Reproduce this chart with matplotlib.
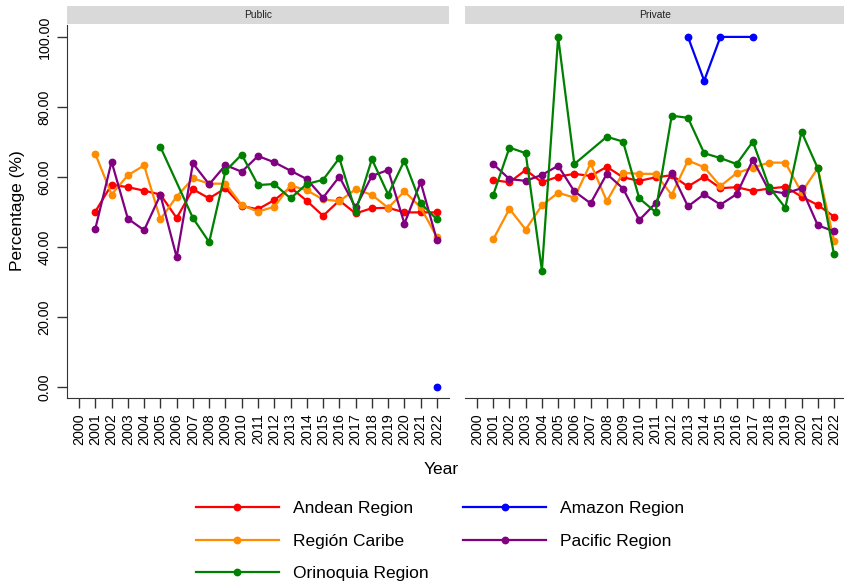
import numpy as np
import matplotlib
matplotlib.use("Agg")
import matplotlib.pyplot as plt
from matplotlib.lines import Line2D

plt.rcParams['font.family'] = ['Liberation Sans', 'DejaVu Sans']

years = list(range(2001, 2023))

# Public
andean_pub = [50.1, 57.8, 57.1, 56.1, 55.0, 48.3, 56.5, 53.9, 56.8, 51.7, 50.8,
              53.4, 57.0, 53.2, 48.9, 53.3, 49.6, 51.1, 51.2, 49.9, 49.9, 49.9]
amazon_pub = [None] * 21 + [0.0]
caribe_pub = [66.6, 55.0, 60.5, 63.3, 47.9, 54.4, 59.6, 58.1, 58.1, 52.0, 50.1,
              51.5, 57.6, 56.2, 53.6, 53.1, 56.5, 54.9, 51.2, 55.9, 51.3, 42.8]
pacific_pub = [45.2, 64.4, 48.1, 44.8, 54.9, 37.1, 63.9, 57.9, 63.4, 61.5, 66.0,
               64.2, 61.8, 59.4, 54.1, 60.1, 51.3, 60.3, 62.0, 46.7, 58.5, 41.9]
orinoquia_pub = [None, None, None, None, 68.6, None, 48.3, 41.4, 61.7, 66.4, 57.7,
                 58.0, 53.9, 58.0, 59.2, 65.4, 50.1, 65.1, 55.0, 64.7, 52.5, 47.9]

# Private
andean_priv = [59.1, 58.5, 62.0, 58.5, 60.1, 60.9, 60.3, 62.9, 59.9, 58.9, 59.9,
               60.5, 57.3, 60.1, 56.8, 57.1, 56.0, 56.7, 57.2, 54.4, 52.0, 48.7]
amazon_priv = [None] * 12 + [100.0, 87.5, 100.0, None, 100.0] + [None] * 5
caribe_priv = [42.2, 50.9, 45.0, 51.9, 55.5, 54.1, 63.9, 53.1, 61.2, 60.9, 60.9,
               54.9, 64.7, 62.8, 57.4, 61.1, 62.7, 64.1, 64.1, 55.6, 62.5, 41.8]
pacific_priv = [63.7, 59.4, 58.9, 60.6, 63.2, 55.9, 52.5, 60.9, 56.7, 47.7, 52.5,
                61.2, 51.6, 55.1, 52.1, 55.1, 64.9, 56.1, 55.3, 56.8, 46.2, 44.5]
orinoquia_priv = [54.9, 68.4, 66.8, 33.3, 100.0, 63.7, None, 71.5, 70.1, 53.9, 50.0,
                  77.5, 76.9, 66.8, 65.4, 63.7, 70.1, 57.2, 51.2, 72.9, 62.5, 37.9]

regions = ["Andean Region", "Amazon Region", "Región Caribe", "Pacific Region", "Orinoquia Region"]
colors = ["#ff0000", "#0000ff", "#ff8c00", "#800080", "#008000"]
panels = {
    "Public": [andean_pub, amazon_pub, caribe_pub, pacific_pub, orinoquia_pub],
    "Private": [andean_priv, amazon_priv, caribe_priv, pacific_priv, orinoquia_priv],
}

W, H = 844, 588
fig = plt.figure(figsize=(W / 100, H / 100), dpi=100)

def fx(px):
    return px / W

def fy(py):
    return 1 - py / H

boxes = {"Public": (67, 449), "Private": (465, 846)}
top, bottom = 25, 398
tick_years = list(range(2000, 2023))

for i, (name, series) in enumerate(panels.items()):
    x0, x1 = boxes[name]
    ax = fig.add_axes([fx(x0), fy(bottom), fx(x1 - x0), (bottom - top) / H])
    for vals, col in zip(series, colors):
        xs = [y for y, v in zip(years, vals) if v is not None]
        ys = [v for v in vals if v is not None]
        ax.plot(xs, ys, color=col, lw=1.6, marker='o', ms=4.6, clip_on=False)
    ax.set_xlim(1999.26, 2022.74)
    ax.set_ylim(-3.1, 103.4)
    ax.set_xticks(tick_years)
    ax.set_xticklabels([str(y) for y in tick_years], rotation=90, fontsize=10.3)
    ax.tick_params(axis='x', length=7, width=1, pad=4, color='#333333')
    for s in ['top', 'right']:
        ax.spines[s].set_visible(False)
    ax.spines['bottom'].set_color('#333333')
    if i == 0:
        ax.set_yticks([0, 20, 40, 60, 80, 100])
        ax.set_yticklabels(["%.2f" % v for v in [0, 20, 40, 60, 80, 100]],
                           rotation=90, va='center', fontsize=10.3)
        ax.tick_params(axis='y', length=7, width=1, pad=4, color='#333333')
        ax.spines['left'].set_color('#333333')
    else:
        ax.spines['left'].set_visible(False)
        ax.set_yticks([])

    # facet strip
    sx = fig.add_axes([fx(x0), fy(24), fx(x1 - x0), 18 / H])
    sx.set_facecolor('#d9d9d9')
    sx.set_xticks([])
    sx.set_yticks([])
    for s in sx.spines.values():
        s.set_visible(False)
    sx.text(0.5, 0.5, name, ha='center', va='center', fontsize=7.4, color='#222222',
            transform=sx.transAxes)

fig.text(fx(18), fy(211), "Percentage (%)", rotation=90, ha='center', va='center', fontsize=12.5)
fig.text(fx(441), fy(470), "Year", ha='center', va='center', fontsize=12.5)

order = [0, 2, 4, 1, 3]
handles = [Line2D([], [], color=colors[k], lw=1.6, marker='o', ms=4.6) for k in order]
labels = [regions[k] for k in order]
fig.legend(handles, labels, ncol=2, loc='center', bbox_to_anchor=(fx(440), fy(541)),
           frameon=False, fontsize=12.5, handlelength=4.8, handletextpad=0.8,
           columnspacing=2.0, labelspacing=0.98)

fig.savefig("out.png", dpi=100)
